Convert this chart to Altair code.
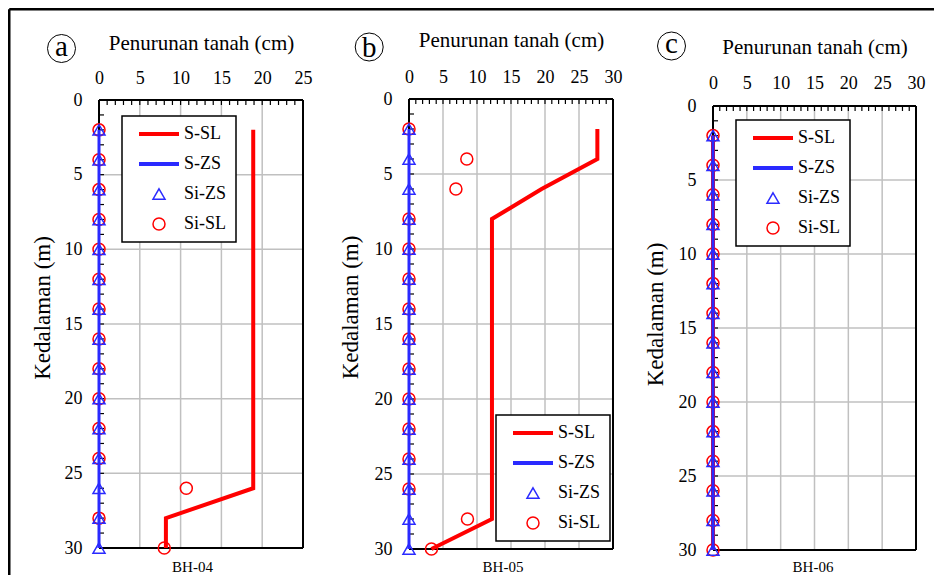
import altair as alt
import pandas as pd

FONT = "'Liberation Serif', 'Times New Roman', serif"

# ---------------- data ----------------
depths = [2, 4, 6, 8, 10, 12, 14, 16, 18, 20, 22, 24, 26, 28, 30]

# BH-04
a_ssl_x = [18.9, 18.9, 8.2, 8.2]
a_ssl_y = [2, 26, 28, 30]
a_szs_x = [0, 0, 0, 0, 0, 0, 0, 0, 0, 0, 0, 0, 0, 0, 0]
a_sizs_x = [0, 0, 0, 0, 0, 0, 0, 0, 0, 0, 0, 0, 0, 0, 0]
a_sisl_x = [0, 0, 0, 0, 0, 0, 0, 0, 0, 0, 0, 0, 10.7, 0, 8.0]

# BH-05
b_ssl_x = [27.7, 27.7, 19.5, 12.2, 12.2, 3.3]
b_ssl_y = [2, 4, 6, 8, 28, 30]
b_szs_x = [0, 0, 0, 0, 0, 0, 0, 0, 0, 0, 0, 0, 0, 0, 0]
b_sizs_x = [0, 0, 0, 0, 0, 0, 0, 0, 0, 0, 0, 0, 0, 0, 0]
b_sisl_x = [0, 8.5, 6.9, 0, 0, 0, 0, 0, 0, 0, 0, 0, 0, 8.6, 3.3]

# BH-06
c_ssl_x = [0, 0]
c_ssl_y = [2, 30]
c_szs_x = [0, 0, 0, 0, 0, 0, 0, 0, 0, 0, 0, 0, 0, 0, 0]
c_sizs_x = [0, 0, 0, 0, 0, 0, 0, 0, 0, 0, 0, 0, 0, 0, 0]
c_sisl_x = [0, 0, 0, 0, 0, 0, 0, 0, 0, 0, 0, 0, 0, 0, 0]

series = ["S-SL", "S-ZS", "Si-ZS", "Si-SL"]
series_colors = ["#ff0000", "#2a2aff", "#2a2aff", "#ff0000"]
y_ticks = [0, 5, 10, 15, 20, 25, 30]

# legend / marker shapes (normalised symbol paths)
LINE_PATH = "M-1,-0.06H1M-1,-0.02H1M-1,0.02H1M-1,0.06H1"
TRI_PATH = "M0,-0.26L0.3,0.26L-0.3,0.26Z"
CIRC_PATH = "M0.3,0A0.3,0.3,0,1,1,-0.3,0A0.3,0.3,0,1,1,0.3,0Z"
series_shapes = [LINE_PATH, LINE_PATH, TRI_PATH, CIRC_PATH]

RED = "#ff0000"
BLUE = "#2a2aff"
GRID = "#c0c0c0"


def one_row():
    return pd.DataFrame({"k": [0]})


def make_panel(xmax, width, r0, r1, ssl_x, ssl_y, szs_x, sizs_x, sisl_x,
               leg_xy, lab_pad, xt_xy, yt_xy, letter, letter_c, letter_base,
               bh, bh_xy, frame=False):
    x_ticks = list(range(0, xmax + 1, 5))
    xs = alt.Scale(domain=[0, xmax], nice=False, zero=False)
    ys = alt.Scale(domain=[0, 30], range=[r0, r1], nice=False, zero=False)
    xa = alt.Axis(orient="top", values=x_ticks, format="d", title="Penurunan tanah (cm)",
                  domain=False, ticks=False, tickSize=0, grid=False,
                  labelFont=FONT, labelFontSize=18, labelColor="black",
                  labelPadding=lab_pad, labelBaseline="middle", labelFlush=False,
                  labelOverlap=False,
                  titleFont=FONT, titleFontSize=21, titleFontWeight="normal",
                  titleColor="black", titleX=xt_xy[0], titleY=xt_xy[1],
                  titleAlign="center", titleBaseline="middle")
    ya = alt.Axis(orient="left", values=y_ticks, format="d", title="Kedalaman (m)",
                  domain=False, ticks=False, tickSize=0, grid=False,
                  labelFont=FONT, labelFontSize=18, labelColor="black",
                  labelPadding=17, labelAlign="right", labelBaseline="middle",
                  labelFlush=False, labelOverlap=False,
                  titleFont=FONT, titleFontSize=23, titleFontWeight="normal",
                  titleColor="black", titleAngle=270, titleX=yt_xy[0], titleY=yt_xy[1],
                  titleAlign="center", titleBaseline="middle")

    def X(f):
        return alt.X(f, type="quantitative", scale=xs, axis=xa)

    def Y(f):
        return alt.Y(f, type="quantitative", scale=ys, axis=ya)

    leg = alt.Legend(orient="none", legendX=leg_xy[0], legendY=leg_xy[1], title=None)
    cscale = alt.Scale(domain=series, range=series_colors)
    sscale = alt.Scale(domain=series, range=series_shapes)

    # grid
    gv = pd.DataFrame({"g": x_ticks[1:-1], "lo": 0, "hi": 30})
    gh = pd.DataFrame({"g": y_ticks[1:-1], "lo": 0, "hi": xmax})
    grid_v = alt.Chart(gv).mark_rule(color=GRID, strokeWidth=1.5).encode(
        x=X("g"), y=Y("lo"), y2=alt.Y2("hi"))
    grid_h = alt.Chart(gh).mark_rule(color=GRID, strokeWidth=1.5).encode(
        y=Y("g"), x=X("lo"), x2=alt.X2("hi"))

    # plot frame
    fr = pd.DataFrame({"x": [0, 0, 0, xmax], "x2": [xmax, xmax, 0, xmax],
                       "y": [0, 30, 0, 0], "y2": [0, 30, 30, 30]})
    frame_l = alt.Chart(fr).mark_rule(color="black", strokeWidth=2).encode(
        x=X("x"), x2=alt.X2("x2"), y=Y("y"), y2=alt.Y2("y2"))

    # minor inward ticks
    tt = pd.DataFrame({"t": list(range(1, xmax)), "z": 0})
    lt = pd.DataFrame({"t": list(range(1, 30)), "z": 0})
    top_ticks = alt.Chart(tt).mark_rule(color="black", strokeWidth=1.2, y2Offset=5).encode(
        x=X("t"), y=Y("z"), y2=alt.Y2("z"))
    left_ticks = alt.Chart(lt).mark_rule(color="black", strokeWidth=1.2, x2Offset=5).encode(
        y=Y("t"), x=X("z"), x2=alt.X2("z"))

    # series
    ssl = pd.DataFrame({"x": ssl_x, "y": ssl_y, "i": list(range(len(ssl_x)))})
    szs = pd.DataFrame({"x": szs_x, "y": depths, "i": list(range(len(depths)))})
    sisl = pd.DataFrame({"x": sisl_x, "y": depths, "s": "Si-SL"})
    sizs = pd.DataFrame({"x": sizs_x, "y": depths, "s": "Si-ZS"})

    red_line = alt.Chart(ssl).mark_line(color=RED, strokeWidth=4).encode(
        x=X("x"), y=Y("y"), order=alt.Order("i:Q"))
    blue_line = alt.Chart(szs).mark_line(color=BLUE, strokeWidth=3).encode(
        x=X("x"), y=Y("y"), order=alt.Order("i:Q"))

    def pts(df):
        return alt.Chart(df).mark_point(filled=False, size=1600, strokeWidth=1.5, opacity=1).encode(
            x=X("x"), y=Y("y"),
            color=alt.Color("s:N", scale=cscale, legend=leg),
            shape=alt.Shape("s:N", scale=sscale, legend=leg))

    circ = pts(sisl)
    tri = pts(sizs)

    # panel letter and borehole label
    ring = alt.Chart(one_row()).mark_point(shape="circle", size=784, filled=False,
                                           color="black", strokeWidth=1, opacity=1).encode(
        x=alt.value(letter_c[0]), y=alt.value(letter_c[1]))
    let = alt.Chart(one_row()).mark_text(text=letter, font=FONT, fontSize=29, color="black",
                                         align="center", baseline="alphabetic").encode(
        x=alt.value(letter_c[0]), y=alt.value(letter_base))
    bhl = alt.Chart(one_row()).mark_text(text=bh, font=FONT, fontSize=15, color="black",
                                         align="center", baseline="middle").encode(
        x=alt.value(bh_xy[0]), y=alt.value(bh_xy[1]))

    layers = [grid_v, grid_h, frame_l, top_ticks, left_ticks, red_line, circ, blue_line, tri,
              ring, let, bhl]
    if frame:
        top_rule = alt.Chart(one_row()).mark_rule(color="black", strokeWidth=2.5).encode(
            x=alt.value(-89.75), x2=alt.value(835), y=alt.value(-89.75))
        left_rule = alt.Chart(one_row()).mark_rule(color="black", strokeWidth=2.5).encode(
            x=alt.value(-89.75), y=alt.value(-89.75), y2=alt.value(476))
        layers += [top_rule, left_rule]
    return alt.layer(*layers).properties(width=width, height=r1)


def spacer(w):
    return alt.Chart(one_row()).mark_point(opacity=0).encode(
        x=alt.X("k:Q", axis=None), y=alt.Y("k:Q", axis=None)).properties(width=w, height=10)


pa = make_panel(25, 204, 1, 449, a_ssl_x, a_ssl_y, a_szs_x, a_sizs_x, a_sisl_x,
                (23, 17), 21, (102, -56), (-56.5, 208.5), "a", (-37.5, -50.5), -43.3,
                "BH-04", (93.5, 468), frame=True)
pb = make_panel(30, 204, 0, 450, b_ssl_x, b_ssl_y, b_szs_x, b_sizs_x, b_sisl_x,
                (87, 316), 22, (102, -59), (-59, 208), "b", (-39.8, -52), -41.7,
                "BH-05", (94, 468))
pc = make_panel(30, 203, 7, 451, c_ssl_x, c_ssl_y, c_szs_x, c_sizs_x, c_sisl_x,
                (23, 21), 16, (101.5, -52), (-58, 215), "c", (-41.5, -53), -45.7,
                "BH-06", (100, 468))

chart = alt.hconcat(pa, spacer(106), pb, spacer(100), pc, spacing=0, bounds="flush").resolve_scale(
    color="independent", shape="independent").resolve_legend(
    color="independent", shape="independent").properties(padding=0).configure(
    font=FONT).configure_view(
    stroke=None).configure_axis(
    labelFont=FONT, titleFont=FONT).configure_text(font=FONT).configure_legend(
    padding=9, strokeColor="black", strokeWidth=1.5, fillColor="white",
    labelFont=FONT, labelFontSize=18, labelColor="black", labelLimit=200,
    symbolSize=1600, symbolStrokeWidth=1.5, clipHeight=18, rowPadding=12,
    symbolOffset=7, labelOffset=4)

chart.save("out.html", embed_options={"renderer": "svg", "actions": False})
